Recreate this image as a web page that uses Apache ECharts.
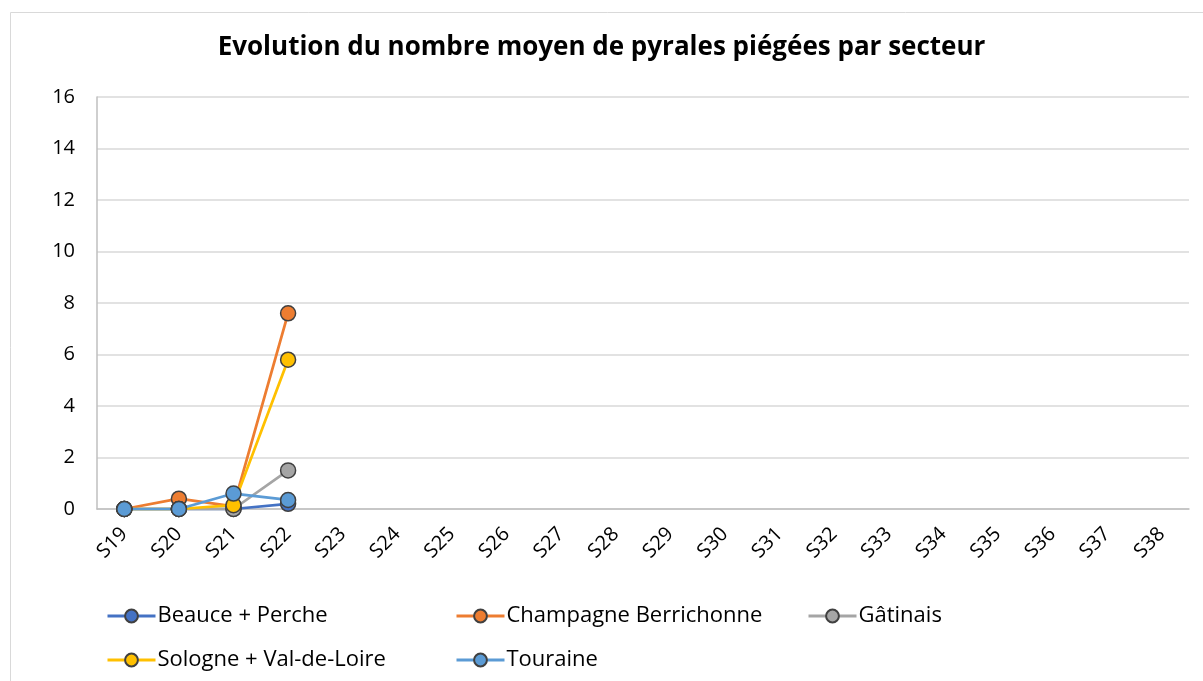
<!DOCTYPE html>
<html><head><meta charset="utf-8">
<script src="https://cdn.jsdelivr.net/npm/echarts@6/dist/echarts.min.js"></script>
<style>html,body{margin:0;padding:0;background:#fff}#c{width:1203px;height:681px}</style>
</head><body><div id="c"></div>
<script>
const categories = ['S19','S20','S21','S22','S23','S24','S25','S26','S27','S28','S29','S30','S31','S32','S33','S34','S35','S36','S37','S38'];
const beauce = [0, 0, 0, 0.2];
const champagne = [0, 0.4, 0.1, 7.6];
const gatinais = [0, 0, 0, 1.5];
const sologne = [0, 0, 0.15, 5.8];
const touraine = [0, 0, 0.6, 0.35];
const yTicks = [0, 2, 4, 6, 8, 10, 12, 14, 16];

const names = ['Beauce + Perche','Champagne Berrichonne','Gâtinais','Sologne + Val-de-Loire','Touraine'];
const colors = ['#4472C4','#ED7D31','#A5A5A5','#FFC000','#5B9BD5'];
const datas = [beauce, champagne, gatinais, sologne, touraine];
const font = 'Open Sans';
const legendPos = [[101, 600], [450, 600], [802, 600], [101, 644], [450, 644]];

const chart = echarts.init(document.getElementById('c'));
chart.setOption({
  animation: false,
  title: {text: 'Evolution du nombre moyen de pyrales piégées par secteur', left: 'center', top: 30,
    textStyle: {fontFamily: font, fontSize: 26, fontWeight: 'bold', color: '#000'}},
  graphic: [{type: 'rect', shape: {x: 10.5, y: 12.5, width: 1200, height: 680}, style: {fill: 'none', stroke: '#d9d9d9', lineWidth: 1}, silent: true}],
  legend: names.map((n, i) => ({
    data: [n], left: legendPos[i][0], top: legendPos[i][1],
    itemWidth: 48, itemHeight: 16, itemGap: 0,
    lineStyle: {width: 3},
    textStyle: {fontFamily: font, fontSize: 22, color: '#000', padding: [0, 0, 0, -3]}
  })),
  grid: {left: 97, right: 14, top: 97, bottom: 172, containLabel: false},
  xAxis: {type: 'category', data: categories, boundaryGap: true,
    axisLine: {lineStyle: {color: '#bfbfbf', width: 1.5}}, axisTick: {show: false},
    axisLabel: {rotate: 45, fontFamily: font, fontSize: 20, color: '#000', margin: 22, interval: 0}},
  yAxis: {type: 'value', min: 0, max: 16, interval: 2,
    axisLine: {show: true, lineStyle: {color: '#bfbfbf', width: 1.5}}, axisTick: {show: false},
    splitLine: {lineStyle: {color: '#d9d9d9', width: 1.5}},
    axisLabel: {fontFamily: font, fontSize: 20, color: '#000', margin: 22,
      formatter: v => yTicks.includes(v) ? String(v) : ''}},
  series: datas.map((d, i) => ({
    name: names[i], type: 'line', data: d, symbol: 'circle', symbolSize: 15,
    lineStyle: {color: colors[i], width: 2.75},
    itemStyle: {color: colors[i], borderColor: '#404040', borderWidth: 1.5},
    emphasis: {disabled: true}
  }))
});
</script></body></html>
